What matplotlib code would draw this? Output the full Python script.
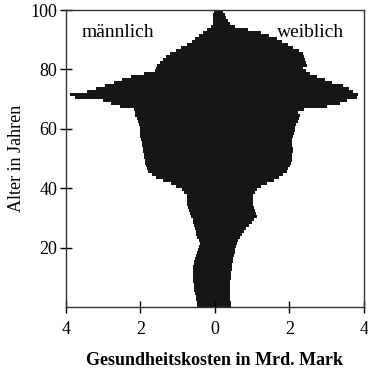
import numpy as np
import matplotlib.pyplot as plt

plt.rcParams['font.family'] = ['Liberation Serif', 'DejaVu Serif']

# ── Data: health costs per age (Mrd. Mark) ─────────────────────────────────
ages = list(range(0, 101))

male = [0.49, 0.49, 0.50, 0.52, 0.54, 0.55, 0.56, 0.57, 0.58, 0.58,
        0.58, 0.58, 0.58, 0.58, 0.57, 0.55, 0.54, 0.51, 0.48, 0.45,
        0.42, 0.40, 0.44, 0.48, 0.50, 0.52, 0.54, 0.56, 0.58, 0.60,
        0.63, 0.66, 0.70, 0.72, 0.74, 0.76, 0.76, 0.76, 0.82, 0.89,
        1.05, 1.18, 1.40, 1.58, 1.70, 1.80, 1.83, 1.85, 1.87, 1.88,
        1.90, 1.91, 1.92, 1.93, 1.95, 1.97, 1.98, 2.00, 2.01, 2.01,
        2.01, 2.03, 2.06, 2.10, 2.15, 2.15, 2.18, 2.55, 2.80, 3.00,
        3.76, 3.89, 3.44, 3.20, 2.95, 2.70, 2.50, 2.24, 1.90, 1.60,
        1.57, 1.55, 1.48, 1.39, 1.30, 1.21, 1.05, 0.90, 0.75, 0.62,
        0.54, 0.42, 0.33, 0.22, 0.10, 0.06, 0.05, 0.05, 0.04, 0.03,
        0.02]

female = [0.43, 0.42, 0.41, 0.40, 0.40, 0.40, 0.40, 0.40, 0.41, 0.42,
          0.43, 0.44, 0.45, 0.45, 0.46, 0.48, 0.49, 0.51, 0.53, 0.54,
          0.56, 0.58, 0.62, 0.67, 0.72, 0.78, 0.84, 0.92, 0.99, 1.06,
          1.12, 1.10, 1.07, 1.04, 1.02, 1.03, 1.03, 1.03, 1.07, 1.12,
          1.25, 1.40, 1.58, 1.72, 1.83, 1.93, 1.97, 2.02, 2.05, 2.06,
          2.07, 2.08, 2.10, 2.09, 2.08, 2.06, 2.08, 2.10, 2.12, 2.14,
          2.15, 2.18, 2.23, 2.26, 2.28, 2.24, 2.40, 3.00, 3.35, 3.54,
          3.80, 3.84, 3.70, 3.60, 3.45, 3.15, 2.95, 2.75, 2.55, 2.45,
          2.37, 2.46, 2.44, 2.42, 2.40, 2.37, 2.25, 2.10, 1.95, 1.80,
          1.66, 1.45, 1.25, 0.90, 0.55, 0.40, 0.35, 0.30, 0.26, 0.22,
          0.18]

x_ticks = [-4, -2, 0, 2, 4]
x_ticklabels = ['4', '2', '0', '2', '4']
y_ticks = [20, 40, 60, 80, 100]

# ── Plot ───────────────────────────────────────────────────────────────────
fig = plt.figure(figsize=(3.68, 3.74), dpi=100)
ax = fig.add_axes([0.179, 0.179, 0.810, 0.794])

ax.barh(ages, -np.array(male), height=1.0, align='edge', color='#161616', linewidth=0)
ax.barh(ages, female, height=1.0, align='edge', color='#161616', linewidth=0)

ax.set_xlim(-4, 4)
ax.set_ylim(0, 100)

ax.set_xticks(x_ticks)
ax.set_xticklabels(x_ticklabels)
ax.set_yticks(y_ticks)
ax.tick_params(direction='inout', length=8, width=1, labelsize=13, pad=6)
ax.tick_params(axis='y', pad=2)

for s in ax.spines.values():
    s.set_linewidth(1.0)
    s.set_color('#333333')

ax.text(-2.6, 92.5, 'männlich', fontsize=14, ha='center', va='center')
ax.text(2.58, 92.5, 'weiblich', fontsize=14, ha='center', va='center')

ax.set_xlabel('Gesundheitskosten in Mrd. Mark', fontsize=13, fontweight='bold', labelpad=10)
ax.set_ylabel('Alter in Jahren', fontsize=13, labelpad=4)

fig.savefig('out.png', dpi=100)
